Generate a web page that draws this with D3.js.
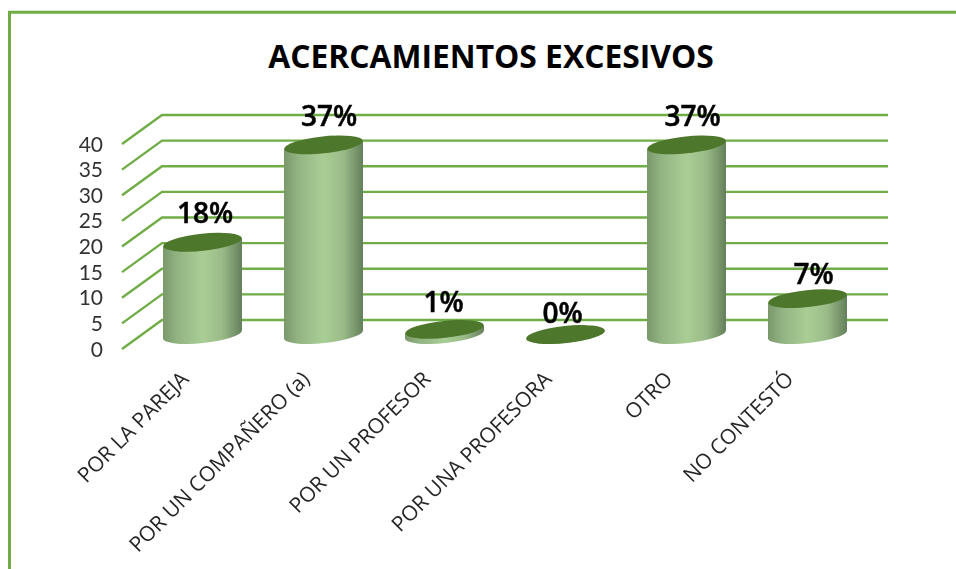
<!DOCTYPE html>
<html><head><meta charset="utf-8">
<script src="https://cdn.jsdelivr.net/npm/d3@7/dist/d3.min.js"></script>
<style>html,body{margin:0;padding:0;background:#fff}svg{display:block}</style>
</head><body><svg id="c" width="956" height="569"></svg>
<script>
const titleText = "ACERCAMIENTOS EXCESIVOS";
const categories = ["POR LA PAREJA","POR UN COMPAÑERO (a)","POR UN PROFESOR","POR UNA PROFESORA","OTRO","NO CONTESTÓ"];
const values = [18,37,1,0,37,7];
const valueLabels = ["18%","37%","1%","0%","37%","7%"];
const yTicks = [0,5,10,15,20,25,30,35,40];

const svg = d3.select("#c");
const green = "#70ad47";
const dark = "#4e772c";
const depthX = 40, depthY = -29, tilt = -6;
const x = d3.scaleBand().domain(categories).range([122,848]).paddingInner(1-79/121).paddingOuter((1-79/121)/2);
const y = d3.scaleLinear().domain([0,40]).range([349,144]);

const defs = svg.append("defs");
const g = defs.append("linearGradient").attr("id","cyl");
[[0,"#7a986b"],[0.18,"#92b483"],[0.5,"#a9ce94"],[0.75,"#9abb88"],[1,"#64805a"]].forEach(s=>g.append("stop").attr("offset",s[0]).attr("stop-color",s[1]));
defs.append("filter").attr("id","soft").append("feGaussianBlur").attr("stdDeviation",0.4);

svg.append("path").attr("d","M9.5,569V12.3H956").attr("fill","none").attr("stroke",green).attr("stroke-width",3);

svg.append("text").attr("x",491).attr("y",68).attr("text-anchor","middle")
  .attr("font-family","'Open Sans'").attr("font-weight",700).attr("font-size",31.8).attr("fill","#000").text(titleText);

const plot = svg.append("g").attr("filter","url(#soft)");
const grid = d3.line();
plot.append("g").selectAll("path").data(yTicks).join("path")
  .attr("d",t=>grid([[x.range()[0],y(t)],[x.range()[0]+depthX,y(t)+depthY],[x.range()[1]+depthX,y(t)+depthY]]))
  .attr("fill","none").attr("stroke",green).attr("stroke-width",2.4);

plot.append("g").selectAll("text").data(yTicks).join("text")
  .attr("x",103).attr("y",t=>y(t)).attr("dy","0.36em").attr("text-anchor","end")
  .attr("font-family","Lato").attr("font-size",21).attr("fill","#333").text(t=>t);

const rx = x.bandwidth()/2, ry = 8.5;
const rad = tilt*Math.PI/180;
const bars = plot.append("g").selectAll("g").data(categories).join("g")
  .attr("transform",c=>`translate(${x(c)+rx+depthX/2},${y(0)+depthY/2})`);
bars.append("path").attr("fill","url(#cyl)")
  .attr("d",(c,i)=>{
    const h = y(0)-y(values[i]);
    const dy = rx*Math.sin(-rad);
    return `M${-rx},${dy}L${-rx},${dy-h}L${rx},${-dy-h}L${rx},${-dy}A${rx},${ry} ${tilt} 0 1 ${-rx},${dy}Z`;
  });
bars.append("ellipse").attr("rx",rx).attr("ry",ry).attr("fill",dark)
  .attr("transform",(c,i)=>`translate(0,${y(values[i])-y(0)}) rotate(${tilt})`);

// small hand placement of the value labels, as in the source chart
const labelDx = [2.5,5.5,-1,-3,6,6], labelDy = [-29,-29,-27.5,-22,-29,-25];
plot.append("g").selectAll("text").data(categories).join("text")
  .attr("x",(c,i)=>x(c)+rx+depthX/2+labelDx[i]).attr("y",(c,i)=>y(values[i])+depthY/2+labelDy[i])
  .attr("dy","0.36em").attr("text-anchor","middle")
  .attr("font-family","'Open Sans'").attr("font-weight",600).attr("font-size",28).attr("fill","#000")
  .attr("stroke","#000").attr("stroke-width",0.5)
  .text((c,i)=>valueLabels[i]);

plot.append("g").selectAll("text").data(categories).join("text")
  .attr("transform",c=>`translate(${x(c)+rx-3},370) rotate(-45)`)
  .attr("text-anchor","end").attr("dy","0.7em")
  .attr("font-family","'Open Sans'").attr("font-size",21).attr("fill","#262626").text(c=>c);
</script></body></html>
